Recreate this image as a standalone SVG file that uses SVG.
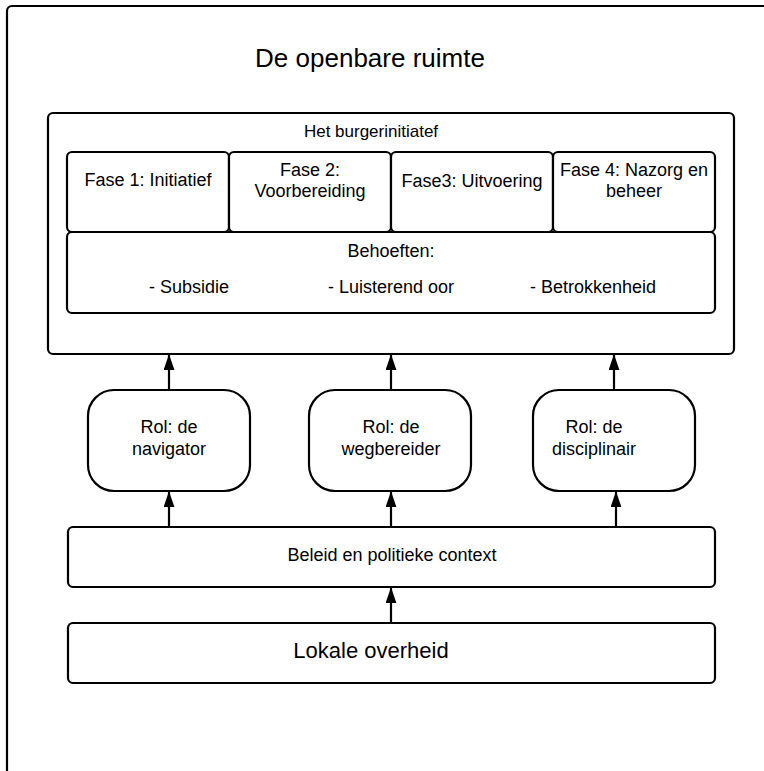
<svg xmlns="http://www.w3.org/2000/svg" width="764" height="771" viewBox="0 0 764 771">
<style>
.box{fill:#fff;stroke:#000;stroke-width:2.2}
.t{font-family:"Liberation Sans",Arial,sans-serif;font-size:18px;fill:#000;text-anchor:middle}
.con{stroke:#000;stroke-width:2.2;fill:none}
</style>
<defs>
<marker id="ah" markerWidth="16" markerHeight="11" refX="9.5" refY="5" orient="auto" markerUnits="userSpaceOnUse" viewBox="0 0 10 10" preserveAspectRatio="none">
<path d="M0,0 L10,5 L0,10 Z" fill="#000"/>
</marker>
</defs>
<rect width="764" height="771" fill="#fff"/>
<g id="outer">
<rect class="box" x="7" y="6" width="800" height="775" rx="5"/>
<text class="t" x="370" y="67" style="font-size:26px">De openbare ruimte</text>
</g>
<g id="burgerinitiatief">
<rect class="box" x="48" y="113" width="686" height="241" rx="5"/>
<text class="t" x="371" y="137" style="font-size:17px">Het burgerinitiatef</text>
</g>
<g id="fase1">
<rect class="box" x="67" y="152" width="162" height="80" rx="5"/>
<text class="t" x="148" y="186">Fase 1: Initiatief</text>
</g>
<g id="fase2">
<rect class="box" x="229" y="152" width="162" height="80" rx="5"/>
<text class="t" x="310" y="176">Fase 2:</text>
<text class="t" x="310" y="197">Voorbereiding</text>
</g>
<g id="fase3">
<rect class="box" x="391" y="152" width="162" height="80" rx="5"/>
<text class="t" x="472" y="187">Fase3: Uitvoering</text>
</g>
<g id="fase4">
<rect class="box" x="553" y="152" width="162" height="80" rx="5"/>
<text class="t" x="634" y="176">Fase 4: Nazorg en</text>
<text class="t" x="634" y="197">beheer</text>
</g>
<g id="behoeften">
<rect class="box" x="67" y="232" width="648" height="81" rx="5"/>
<text class="t" x="391" y="257">Behoeften:</text>
<text class="t" x="189" y="293">- Subsidie</text>
<text class="t" x="391" y="293">- Luisterend oor</text>
<text class="t" x="593" y="293">- Betrokkenheid</text>
</g>
<g id="rol-navigator">
<rect class="box" x="88" y="390" width="162" height="101" rx="26"/>
<text class="t" x="169" y="433">Rol: de</text>
<text class="t" x="169" y="455">navigator</text>
</g>
<g id="rol-wegbereider">
<rect class="box" x="309" y="390" width="162" height="101" rx="26"/>
<text class="t" x="391" y="433">Rol: de</text>
<text class="t" x="391" y="455">wegbereider</text>
</g>
<g id="rol-disciplinair">
<rect class="box" x="533" y="390" width="162" height="101" rx="26"/>
<text class="t" x="594" y="433">Rol: de</text>
<text class="t" x="594" y="455">disciplinair</text>
</g>
<g id="beleid">
<rect class="box" x="68" y="527" width="647" height="60" rx="5"/>
<text class="t" x="392" y="561">Beleid en politieke context</text>
</g>
<g id="lokale-overheid">
<rect class="box" x="68" y="623" width="647" height="60" rx="5"/>
<text class="t" x="371" y="658" style="font-size:22px">Lokale overheid</text>
</g>
<g id="connectors">
<line class="con" x1="169" y1="390" x2="169" y2="355" marker-end="url(#ah)"/>
<line class="con" x1="391" y1="390" x2="391" y2="355" marker-end="url(#ah)"/>
<line class="con" x1="614" y1="390" x2="614" y2="355" marker-end="url(#ah)"/>
<line class="con" x1="169" y1="527" x2="169" y2="492" marker-end="url(#ah)"/>
<line class="con" x1="391" y1="527" x2="391" y2="492" marker-end="url(#ah)"/>
<line class="con" x1="616" y1="527" x2="616" y2="492" marker-end="url(#ah)"/>
<line class="con" x1="391" y1="623" x2="391" y2="588" marker-end="url(#ah)"/>
</g>
</svg>
